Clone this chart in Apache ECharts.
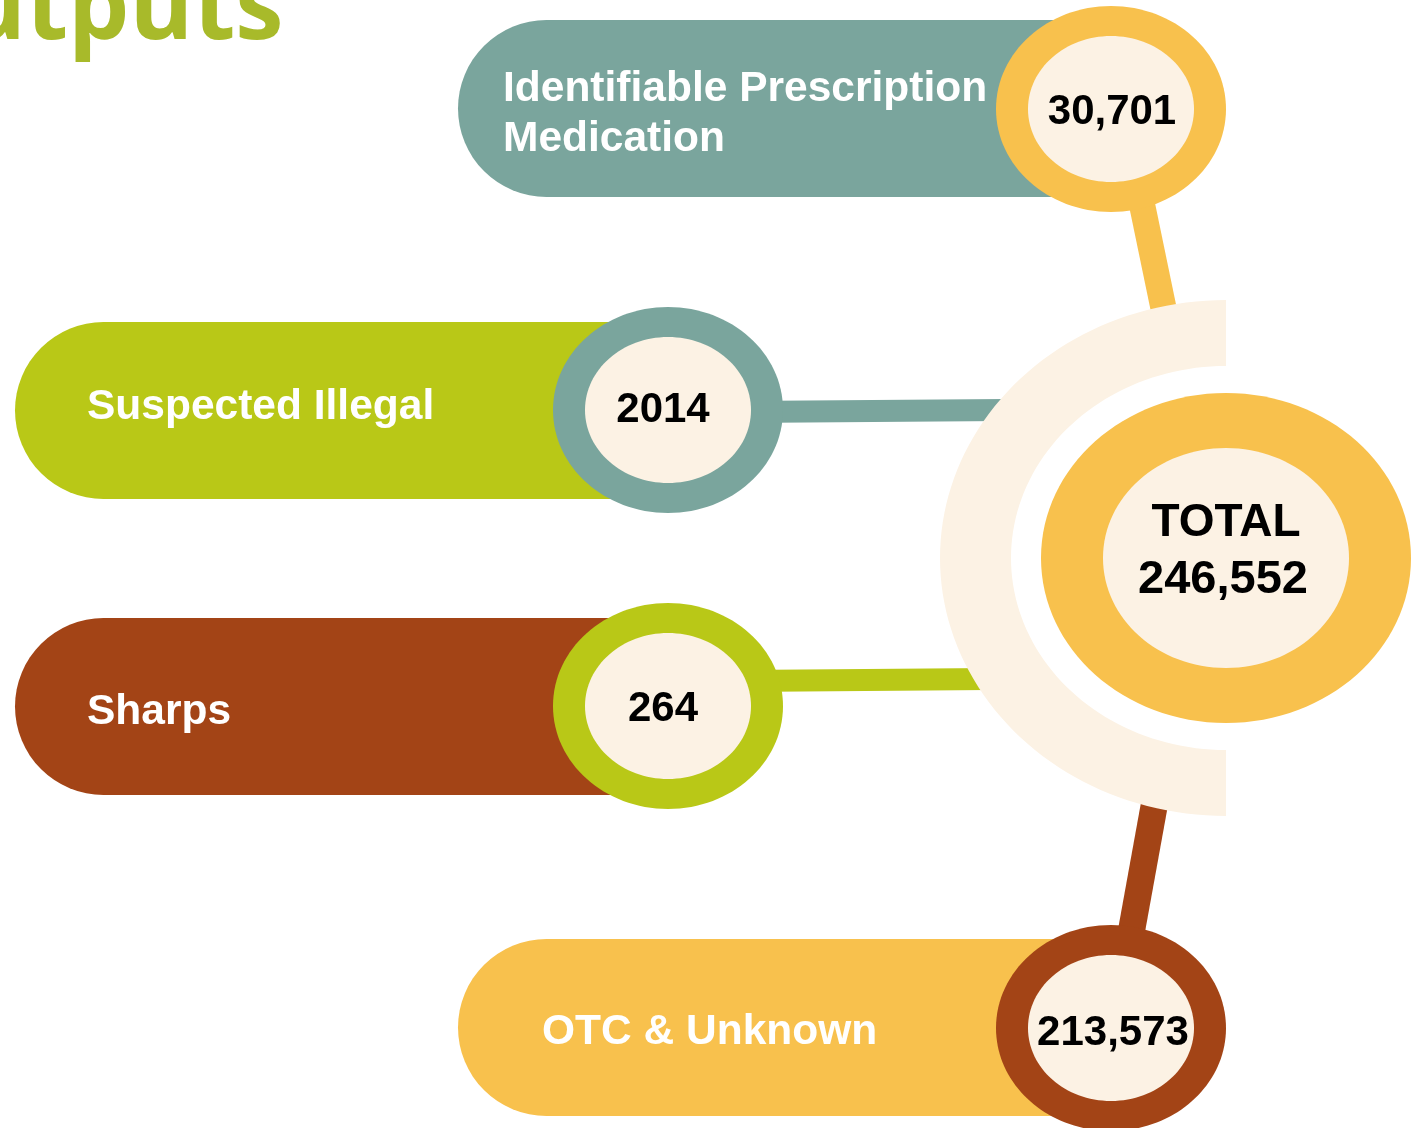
<!DOCTYPE html>
<html>
<head>
<meta charset="utf-8">
<title>Outputs</title>
<script src="https://cdn.jsdelivr.net/npm/echarts@6/dist/echarts.min.js"></script>
<style>
  html, body { margin: 0; padding: 0; background: #fff; }
  #main { width: 1425px; height: 1128px; }
</style>
</head>
<body>
<div id="main"></div>
<script>
// data
const categories = ['Identifiable Prescription\nMedication', 'Suspected Illegal', 'Sharps', 'OTC & Unknown']
const values = [30701, 2014, 264, 213573]
const valueLabels = ['30,701', '2014', '264', '213,573']
const totalTitle = 'TOTAL'
const totalValue = values.reduce((a, b) => a + b, 0)

// colours
const teal = '#7aa59d'
const lime = '#b9c817'
const brown = '#a34416'
const yellow = '#f8c14d'
const cream = '#fcf2e4'

// layout in axis units (the hidden axes span the whole canvas, y downwards)
const layout = [
  { pill: [458, 20, 610, 177], ring: [1111, 109], label: [503, 114], num: [1112, 112], rim: yellow, fill: teal, link: [[1139, 190], [1168, 330]], linkW: 26 },
  { pill: [15, 322, 610, 177], ring: [668, 410], label: [87, 407], num: [663, 410], rim: teal, fill: lime, link: [[740, 412], [1005, 410]], linkW: 22 },
  { pill: [15, 618, 610, 177], ring: [668, 706], label: [87, 712], num: [663, 709], rim: lime, fill: brown, link: [[740, 681], [990, 679]], linkW: 22 },
  { pill: [458, 939, 610, 177], ring: [1111, 1028], label: [542, 1032], num: [1113, 1033], rim: brown, fill: yellow, link: [[1157, 790], [1128, 950]], linkW: 27 }
]
const ringOuter = [115, 103]
const ringInner = [83, 73]
const totalCenter = [1226, 558]
const halo = { outer: [286, 258], inner: [215, 192] }

const chart = echarts.init(document.getElementById('main'))

const ellipse = (api, c, r, fill) => {
  const p = api.coord(c)
  const s = api.size(r)
  return { type: 'ellipse', shape: { cx: p[0], cy: p[1], rx: s[0], ry: s[1] }, style: { fill: fill } }
}

// left half of an elliptical band, as a polygon
const halfBand = (api, c, outer, inner) => {
  const p = api.coord(c)
  const ro = api.size(outer)
  const ri = api.size(inner)
  const pts = []
  const n = 90
  for (let k = 0; k <= n; k++) {
    const t = -Math.PI / 2 - Math.PI * k / n
    pts.push([p[0] + ro[0] * Math.cos(t), p[1] + ro[1] * Math.sin(t)])
  }
  for (let k = n; k >= 0; k--) {
    const t = -Math.PI / 2 - Math.PI * k / n
    pts.push([p[0] + ri[0] * Math.cos(t), p[1] + ri[1] * Math.sin(t)])
  }
  return { type: 'polygon', shape: { points: pts }, style: { fill: cream } }
}

const renderLink = (params, api) => {
  const L = layout[api.value(0)]
  const a = api.coord(L.link[0])
  const b = api.coord(L.link[1])
  return {
    type: 'line',
    shape: { x1: a[0], y1: a[1], x2: b[0], y2: b[1] },
    style: { stroke: L.rim, lineWidth: L.linkW }
  }
}

const renderTotal = (params, api) => {
  const c = api.coord(totalCenter)
  return {
    type: 'group',
    children: [
      halfBand(api, totalCenter, halo.outer, halo.inner),
      ellipse(api, totalCenter, [185, 165], yellow),
      ellipse(api, totalCenter, [123, 110], cream),
      {
        type: 'text',
        x: c[0],
        y: c[1] - 35,
        style: { text: totalTitle, fill: '#000', font: 'bold 46px "Liberation Sans", Arial', align: 'center', verticalAlign: 'middle' }
      },
      {
        type: 'text',
        x: c[0] - 3,
        y: c[1] + 22,
        style: { text: api.value(0).toLocaleString('en-US'), fill: '#000', font: 'bold 47px "Liberation Sans", Arial', align: 'center', verticalAlign: 'middle' }
      }
    ]
  }
}

const renderItem = (params, api) => {
  const i = api.value(0)
  const L = layout[i]
  const tl = api.coord([L.pill[0], L.pill[1]])
  const sz = api.size([L.pill[2], L.pill[3]])
  const lp = api.coord(L.label)
  const np = api.coord(L.num)
  const r = sz[1] / 2
  return {
    type: 'group',
    children: [
      { type: 'rect', shape: { x: tl[0], y: tl[1], width: sz[0], height: sz[1], r: [r, 0, 0, r] }, style: { fill: L.fill } },
      ellipse(api, L.ring, ringOuter, L.rim),
      ellipse(api, L.ring, ringInner, cream),
      {
        type: 'text',
        x: lp[0],
        y: lp[1],
        style: { text: categories[i], fill: '#fff', font: 'bold 42.5px "Liberation Sans", Arial', align: 'left', verticalAlign: 'middle', lineHeight: 50 }
      },
      {
        type: 'text',
        x: np[0],
        y: np[1],
        style: { text: valueLabels[i], fill: '#000', font: 'bold 42px "Liberation Sans", Arial', align: 'center', verticalAlign: 'middle' }
      }
    ]
  }
}

chart.setOption({
  animation: false,
  grid: { left: 0, right: 0, top: 0, bottom: 0 },
  xAxis: { type: 'value', min: 0, max: 1425, show: false },
  yAxis: { type: 'value', min: 0, max: 1128, inverse: true, show: false },
  graphic: [
    {
      type: 'text',
      x: -115,
      y: 11,
      z: 10,
      style: { text: 'Outputs', fill: '#a8ba2a', font: 'bold 97px "Open Sans"', verticalAlign: 'middle' }
    }
  ],
  series: [
    {
      name: 'links',
      type: 'custom',
      z: 1,
      renderItem: renderLink,
      data: values.map((v, i) => [i, v])
    },
    {
      name: 'total',
      type: 'custom',
      z: 2,
      renderItem: renderTotal,
      data: [[totalValue]]
    },
    {
      name: 'outputs',
      type: 'custom',
      z: 3,
      renderItem: renderItem,
      data: values.map((v, i) => [i, v])
    }
  ]
})
</script>
</body>
</html>
